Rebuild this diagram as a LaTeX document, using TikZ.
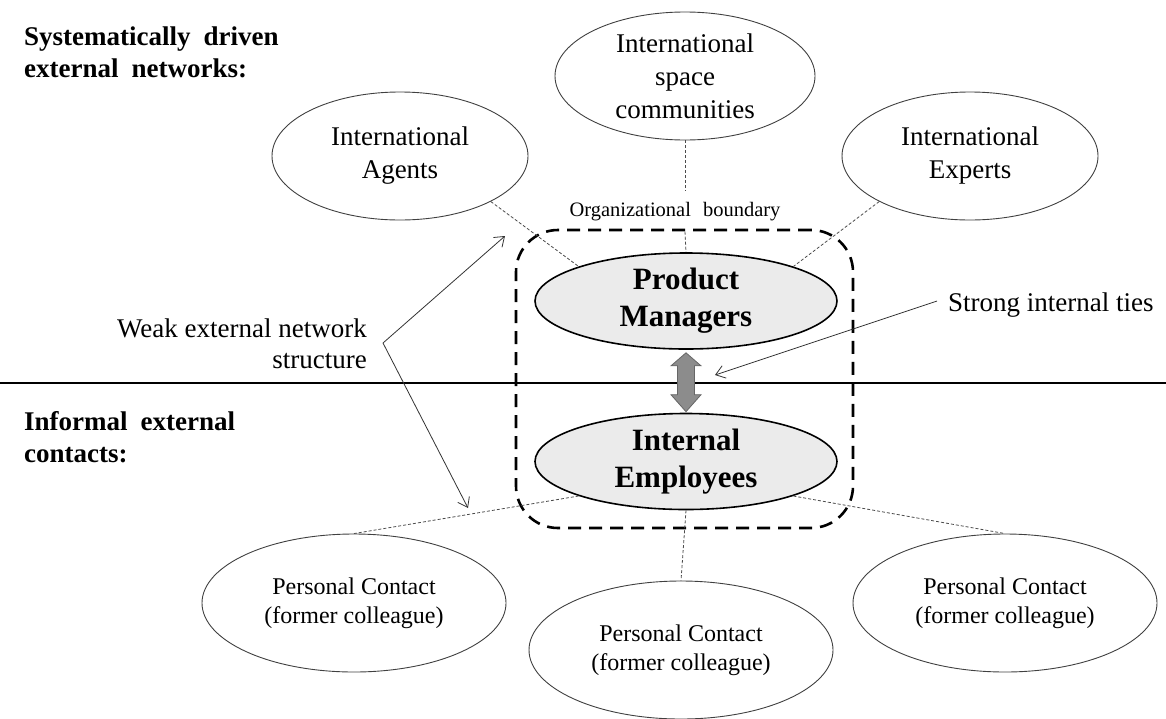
\documentclass[tikz,border=0pt]{standalone}
\usepackage{fontspec}
\setmainfont{Liberation Serif}
\usetikzlibrary{arrows.meta,shapes.geometric,calc}
\newcommand{\widespaceA}{\spaceskip=13pt\relax}
\newcommand{\widespaceB}{\spaceskip=12pt\relax}
\begin{document}
\begin{tikzpicture}[x=1pt,y=-1pt,
  ext/.style={ellipse, draw=black!75, line width=0.9pt, inner sep=0pt, align=center,
    minimum width=256pt, minimum height=128pt, font=\fontsize{27}{33}\selectfont},
  pc/.style={ellipse, draw=black!75, line width=0.9pt, inner sep=0pt, align=center,
    minimum width=304pt, minimum height=138pt, font=\fontsize{24}{29}\selectfont},
  core/.style={ellipse, draw=black, line width=1.6pt, fill=black!8, inner sep=0pt, align=center,
    minimum width=302pt, minimum height=96pt, font=\bfseries\fontsize{31}{37}\selectfont},
  tie/.style={draw=black!70, line width=0.8pt, dash pattern=on 3pt off 2pt},
  note/.style={draw=black!80, line width=0.8pt, -{Straight Barb[length=9pt,width=13pt]}},
  heading/.style={font=\bfseries\fontsize{27}{32}\selectfont\widespaceA, align=left, inner sep=0pt},
  remark/.style={font=\fontsize{27}{31}\selectfont, inner sep=0pt},
  boundary/.style={draw=black, line width=2.6pt, dash pattern=on 13pt off 8pt, rounded corners=42pt,
    minimum width=337pt, minimum height=298pt, inner sep=0pt},
  twoway/.style={fill=black!45, draw=black!60, line width=0.8pt},
]
\useasboundingbox (0,0) rectangle (1166,718);

% headings
\node[heading, anchor=north west] (h1) at (24,26.4) {Systematically driven\\external networks:};
\node[heading, anchor=north west] (h2) at (24,411.4) {Informal external\\contacts:};

% separator line
\coordinate (hl) at (0,383);
\coordinate (hr) at (1166,383);
\draw[line width=2pt] (hl) -- (hr);

% organizational boundary
\node[boundary] (org) at (684.5,379) {};
\node[font=\fontsize{20.5}{24}\selectfont\widespaceB, inner xsep=0pt, inner ysep=11pt, anchor=base] (orgl) at (675,216) {Organizational boundary};

% external ellipses
\node[ext] (ia) at (400,156) {International\\Agents};
\node[ext, minimum width=260pt] (isc) at (685,76) {International\\space\\communities};
\node[ext] (ex) at (970,156) {International\\Experts};

% core ellipses
\node[core] (pm) at (686,301) {Product\\Managers};
\node[core] (ie) at (686,461.5) {Internal\\Employees};

% personal contacts
\node[pc] (pc1) at (354,603) {Personal Contact\\(former colleague)};
\node[pc] (pc2) at (681,650) {Personal Contact\\(former colleague)};
\node[pc] (pc3) at (1005,603) {Personal Contact\\(former colleague)};

% ties
\draw[tie] (ia.south east) -- (pm.north west);
\draw[tie] (ex.south west) -- (pm.north east);
\draw[tie] (isc.south) -- (isc.south |- orgl.north);
\draw[tie] (isc.south |- orgl.south) -- (pm.north);
\draw[tie] (ie.south west) -- (pc1.north);
\draw[tie] (ie.south) -- (pc2.north);
\draw[tie] (ie.south east) -- (pc3.north);

% strong internal tie (double arrow)
\coordinate (dt) at ($(pm.south)+(0,3)$);
\coordinate (db) at ($(ie.north)+(0,-1)$);
\filldraw[twoway] (dt) -- ++(15,13) -- ++(-6.5,0) -- ($(db)+(8.5,-17)$) -- ++(6.5,0)
  -- (db) -- ++(-15,-17) -- ++(6.5,0) -- ($(dt)+(-8.5,13)$) -- ++(-6.5,0) -- cycle;

% remarks
\node[remark, anchor=base west] (sit) at (948,311) {Strong internal ties};
\coordinate (ss) at (937,301);
\coordinate (se) at (715,375);
\draw[note] (ss) -- (se);

\node[remark, anchor=north east, align=right] (wk) at (367,318.6) {Weak external network\\structure};
\coordinate (wv) at (383,343);
\coordinate (wt1) at (505,236);
\coordinate (wt2) at (468,508);
\draw[note] (wv) -- (wt1);
\draw[note] (wv) -- (wt2);
\end{tikzpicture}
\end{document}
